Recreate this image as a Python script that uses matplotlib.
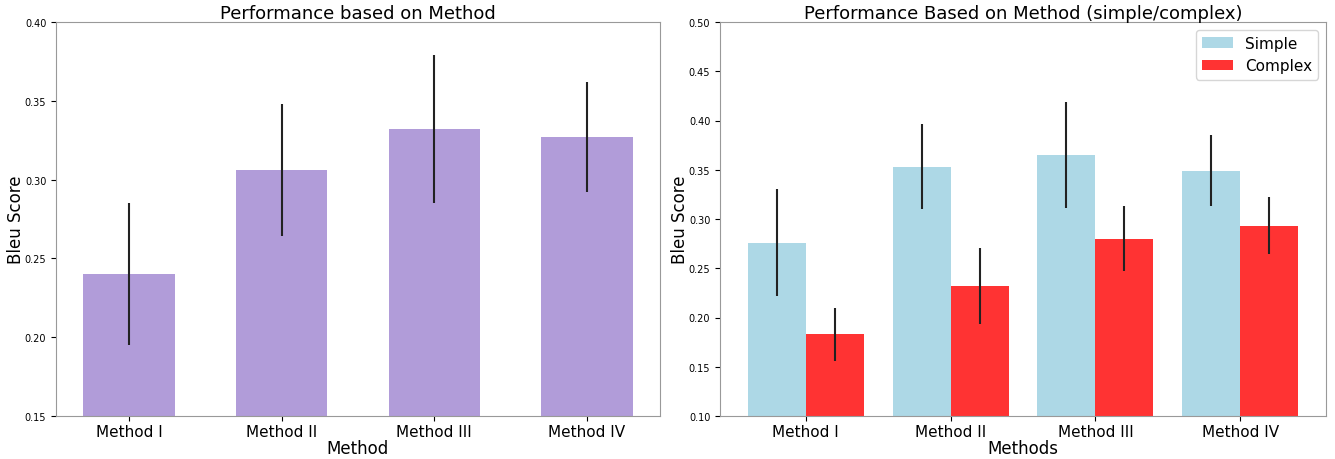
import numpy as np
import matplotlib.pyplot as plt

methods = ['Method I', 'Method II', 'Method III', 'Method IV']

# overall scores
overall_mean = [0.240, 0.306, 0.332, 0.327]
overall_err = [0.045, 0.042, 0.047, 0.035]

# simple / complex split
simple_mean = [0.276, 0.353, 0.365, 0.349]
simple_err = [0.054, 0.043, 0.054, 0.036]
complex_mean = [0.183, 0.232, 0.280, 0.293]
complex_err = [0.027, 0.039, 0.033, 0.029]

fig = plt.figure(figsize=(13.35, 4.6), dpi=100)
ax1 = fig.add_axes([56/1335, 1 - 417/460, (660-56)/1335, (417-23)/460])
ax2 = fig.add_axes([720/1335, 1 - 417/460, (1326-720)/1335, (417-23)/460])

x = np.arange(len(methods))

ax1.bar(x, overall_mean, width=0.6, color='#b19cd9',
        yerr=overall_err, error_kw=dict(ecolor='#222222', lw=1.5))
ax1.set_ylim(0.15, 0.40)
ax1.set_xticks(x)
ax1.set_xticklabels(methods, fontsize=11)
ax1.set_xlabel('Method', fontsize=12, labelpad=0)
ax1.set_ylabel('Bleu Score', fontsize=12, labelpad=0)
ax1.set_title('Performance based on Method', fontsize=13, pad=3)

w = 0.4
ax2.bar(x - w/2, simple_mean, width=w, color='lightblue', label='Simple',
        yerr=simple_err, error_kw=dict(ecolor='#222222', lw=1.5))
ax2.bar(x + w/2, complex_mean, width=w, color='#ff3333', label='Complex',
        yerr=complex_err, error_kw=dict(ecolor='#222222', lw=1.5))
ax2.set_ylim(0.10, 0.50)
ax2.set_xticks(x)
ax2.set_xticklabels(methods, fontsize=11)
ax2.set_xlabel('Methods', fontsize=12, labelpad=0)
ax2.set_ylabel('Bleu Score', fontsize=12, labelpad=0)
ax2.set_title('Performance Based on Method (simple/complex)', fontsize=13, pad=3)
ax2.legend(loc='upper right', fontsize=11)

for ax in (ax1, ax2):
    ax.tick_params(axis='y', labelsize=7)
    ax.tick_params(axis='x', pad=2)
    for s in ax.spines.values():
        s.set_color('#999999')

fig.savefig('out.png', dpi=100)
